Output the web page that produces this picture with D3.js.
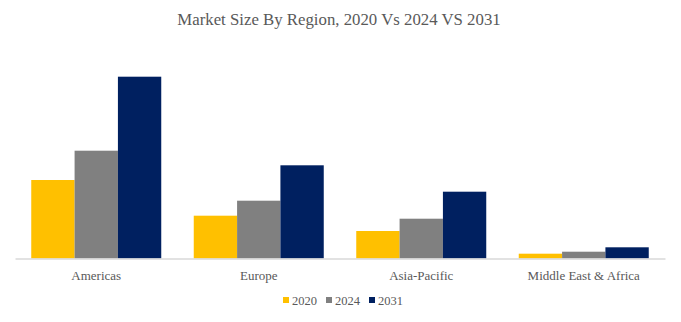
<!DOCTYPE html>
<html lang="en">
<head>
  <meta charset="UTF-8">
  <title>Market Size By Region</title>
  <script src="https://cdn.jsdelivr.net/npm/d3@7"></script>
  <style>
    body { margin: 0; background: #fff; }
    text { font-family: "Palatino Linotype", "Book Antiqua", Palatino, "Liberation Serif", serif; fill: #595959; }
  </style>
</head>
<body>
  <div id="chart"></div>

  <script>
    // data (relative units)
    const regions = ["Americas", "Europe", "Asia-Pacific", "Middle East & Africa"];
    const years = ["2020", "2024", "2031"];
    const values2020 = [78.5, 42.8, 27.5, 4.8];
    const values2024 = [107.8, 57.8, 39.8, 6.8];
    const values2031 = [181.8, 93.2, 66.8, 11.2];
    const series = [values2020, values2024, values2031];

    const width = 681;
    const height = 322;
    const margin = { left: 15, right: 16, top: 58, bottom: 63.5 };

    const color = d3.scaleOrdinal(years, ["#FFC000", "#808080", "#002060"]);

    const svg = d3.select("#chart")
      .append("svg")
      .attr("width", width)
      .attr("height", height);

    svg.append("text")
      .attr("x", 339)
      .attr("y", 25)
      .attr("text-anchor", "middle")
      .style("font-size", "16.8px")
      .text("Market Size By Region, 2020 Vs 2024 VS 2031");

    const x0 = d3.scaleBand()
      .domain(regions)
      .range([margin.left, width - margin.right])
      .paddingInner(0.2)
      .paddingOuter(0.1);

    const x1 = d3.scaleBand()
      .domain(years)
      .range([0, x0.bandwidth()]);

    const y = d3.scaleLinear()
      .domain([0, 200])
      .range([height - margin.bottom, height - margin.bottom - 200]);

    const groups = svg.selectAll("g.region")
      .data(regions)
      .enter()
      .append("g")
      .attr("class", "region")
      .attr("transform", d => "translate(" + x0(d) + ",0)");

    groups.selectAll("rect")
      .data((d, i) => years.map((yr, j) => ({ year: yr, value: series[j][i] })))
      .enter()
      .append("rect")
      .attr("x", d => x1(d.year))
      .attr("y", d => y(d.value))
      .attr("width", x1.bandwidth())
      .attr("height", d => y(0) - y(d.value))
      .attr("fill", d => color(d.year));

    // category axis
    const xAxis = svg.append("g")
      .attr("transform", "translate(0," + y(0) + ")")
      .call(d3.axisBottom(x0).tickSize(0).tickPadding(12));
    xAxis.select(".domain").attr("stroke", "#D9D9D9").attr("stroke-width", 1.3);
    xAxis.selectAll("text")
      .style("font-size", "13px")
      .attr("fill", "#595959")
      .style("font-family", "\"Palatino Linotype\", \"Book Antiqua\", Palatino, \"Liberation Serif\", serif");

    // legend
    const legendX = [283, 326, 369];
    const legend = svg.selectAll("g.legend")
      .data(years)
      .enter()
      .append("g")
      .attr("class", "legend")
      .attr("transform", (d, i) => "translate(" + legendX[i] + ",300)");

    legend.append("rect")
      .attr("x", 0)
      .attr("y", -3)
      .attr("width", 6)
      .attr("height", 6)
      .attr("fill", d => color(d));

    legend.append("text")
      .attr("x", 9)
      .attr("y", 4.5)
      .style("font-size", "12.5px")
      .text(d => d);
  </script>
</body>
</html>
